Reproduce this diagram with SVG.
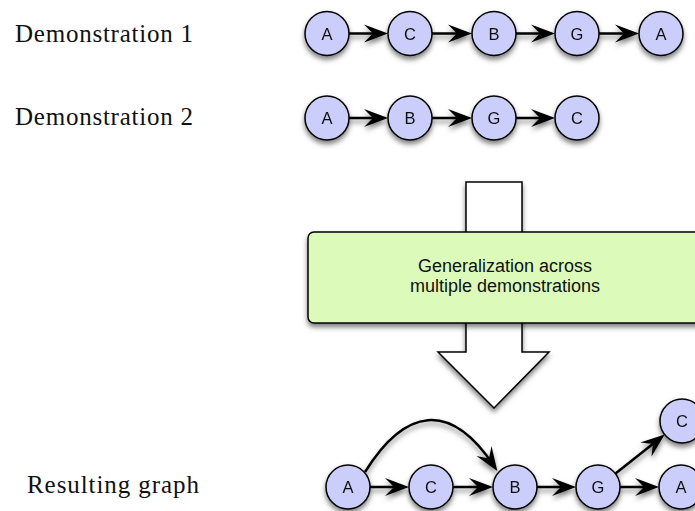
<svg xmlns="http://www.w3.org/2000/svg" width="695" height="511" viewBox="0 0 695 511">
<defs>
<filter id="sh" x="-20%" y="-20%" width="140%" height="160%">
<feDropShadow dx="0" dy="3.5" stdDeviation="2.5" flood-color="#000" flood-opacity="0.5"/>
</filter>
<marker id="ah" markerUnits="userSpaceOnUse" markerWidth="34" markerHeight="30" viewBox="-22 -11 34 22" refX="0" refY="0" orient="auto">
<path d="M6,0 L-18,-9 L-9,0 L-18,9 Z" fill="#000"/>
</marker>
<style>
.n circle{fill:#cbcdfa;stroke:#000;stroke-width:1.5}
.n text{font-family:"Liberation Sans",Arial,sans-serif;font-size:16.5px;fill:#111;text-anchor:middle}
.lbl{font-family:"Liberation Serif","Times New Roman",serif;font-size:25px;fill:#111}
.e{fill:none;stroke:#000;stroke-width:2.5;marker-end:url(#ah)}
.bt{font-family:"Liberation Sans",Arial,sans-serif;font-size:18px;fill:#111;text-anchor:middle}
</style>
</defs>
<rect width="695" height="511" fill="#fff"/>

<text class="lbl" x="15" y="41.7" textLength="178" lengthAdjust="spacing">Demonstration 1</text>
<text class="lbl" x="15" y="125" textLength="178" lengthAdjust="spacing">Demonstration 2</text>
<text class="lbl" x="27" y="493" textLength="172" lengthAdjust="spacing">Resulting graph</text>

<g id="bigarrow" filter="url(#sh)">
<path d="M466,182 H522 V352 H549 L494,408 L438,352 H466 Z" fill="#fff" stroke="#000" stroke-width="1.5"/>
</g>
<g id="genbox" filter="url(#sh)">
<rect x="308" y="232" width="400" height="91" rx="6" fill="#dcfbbb" stroke="#000" stroke-width="1.5"/>
</g>
<text class="bt" x="505" y="272.3">Generalization across</text>
<text class="bt" x="505" y="292.3">multiple demonstrations</text>

<g id="connectors" filter="url(#sh)">
<line class="e" x1="349" y1="33.5" x2="382" y2="33.5"/>
<line class="e" x1="432" y1="33.5" x2="466" y2="33.5"/>
<line class="e" x1="516" y1="33.5" x2="549" y2="33.5"/>
<line class="e" x1="599" y1="33.5" x2="633" y2="33.5"/>
<line class="e" x1="349" y1="118" x2="382" y2="118"/>
<line class="e" x1="432" y1="118" x2="466" y2="118"/>
<line class="e" x1="516" y1="118" x2="549" y2="118"/>
<line class="e" x1="370" y1="487" x2="403" y2="487"/>
<line class="e" x1="453" y1="487" x2="487" y2="487"/>
<line class="e" x1="537" y1="487" x2="570" y2="487"/>
<line class="e" x1="620" y1="487" x2="653" y2="487"/>
<path class="e" d="M365,472 C405,408 450,400 494,466"/>
<line class="e" x1="615.5" y1="473.6" x2="660" y2="438.3"/>
</g>

<g id="d1-a1" class="n" filter="url(#sh)"><circle cx="327" cy="33.5" r="22"/><text x="327" y="39.5">A</text></g>
<g id="d1-c" class="n" filter="url(#sh)"><circle cx="410" cy="33.5" r="22"/><text x="410" y="39.5">C</text></g>
<g id="d1-b" class="n" filter="url(#sh)"><circle cx="494" cy="33.5" r="22"/><text x="494" y="39.5">B</text></g>
<g id="d1-g" class="n" filter="url(#sh)"><circle cx="577" cy="33.5" r="22"/><text x="577" y="39.5">G</text></g>
<g id="d1-a2" class="n" filter="url(#sh)"><circle cx="661" cy="33.5" r="22"/><text x="661" y="39.5">A</text></g>

<g id="d2-a" class="n" filter="url(#sh)"><circle cx="327" cy="118" r="22"/><text x="327" y="124">A</text></g>
<g id="d2-b" class="n" filter="url(#sh)"><circle cx="410" cy="118" r="22"/><text x="410" y="124">B</text></g>
<g id="d2-g" class="n" filter="url(#sh)"><circle cx="494" cy="118" r="22"/><text x="494" y="124">G</text></g>
<g id="d2-c" class="n" filter="url(#sh)"><circle cx="577" cy="118" r="22"/><text x="577" y="124">C</text></g>

<g id="r-a1" class="n" filter="url(#sh)"><circle cx="348" cy="487" r="22"/><text x="348" y="493">A</text></g>
<g id="r-c1" class="n" filter="url(#sh)"><circle cx="431" cy="487" r="22"/><text x="431" y="493">C</text></g>
<g id="r-b" class="n" filter="url(#sh)"><circle cx="515" cy="487" r="22"/><text x="515" y="493">B</text></g>
<g id="r-g" class="n" filter="url(#sh)"><circle cx="598" cy="487" r="22"/><text x="598" y="493">G</text></g>
<g id="r-a2" class="n" filter="url(#sh)"><circle cx="681" cy="487" r="22"/><text x="681" y="493">A</text></g>
<g id="r-c2" class="n" filter="url(#sh)"><circle cx="682" cy="421" r="22"/><text x="682" y="427">C</text></g>
</svg>
